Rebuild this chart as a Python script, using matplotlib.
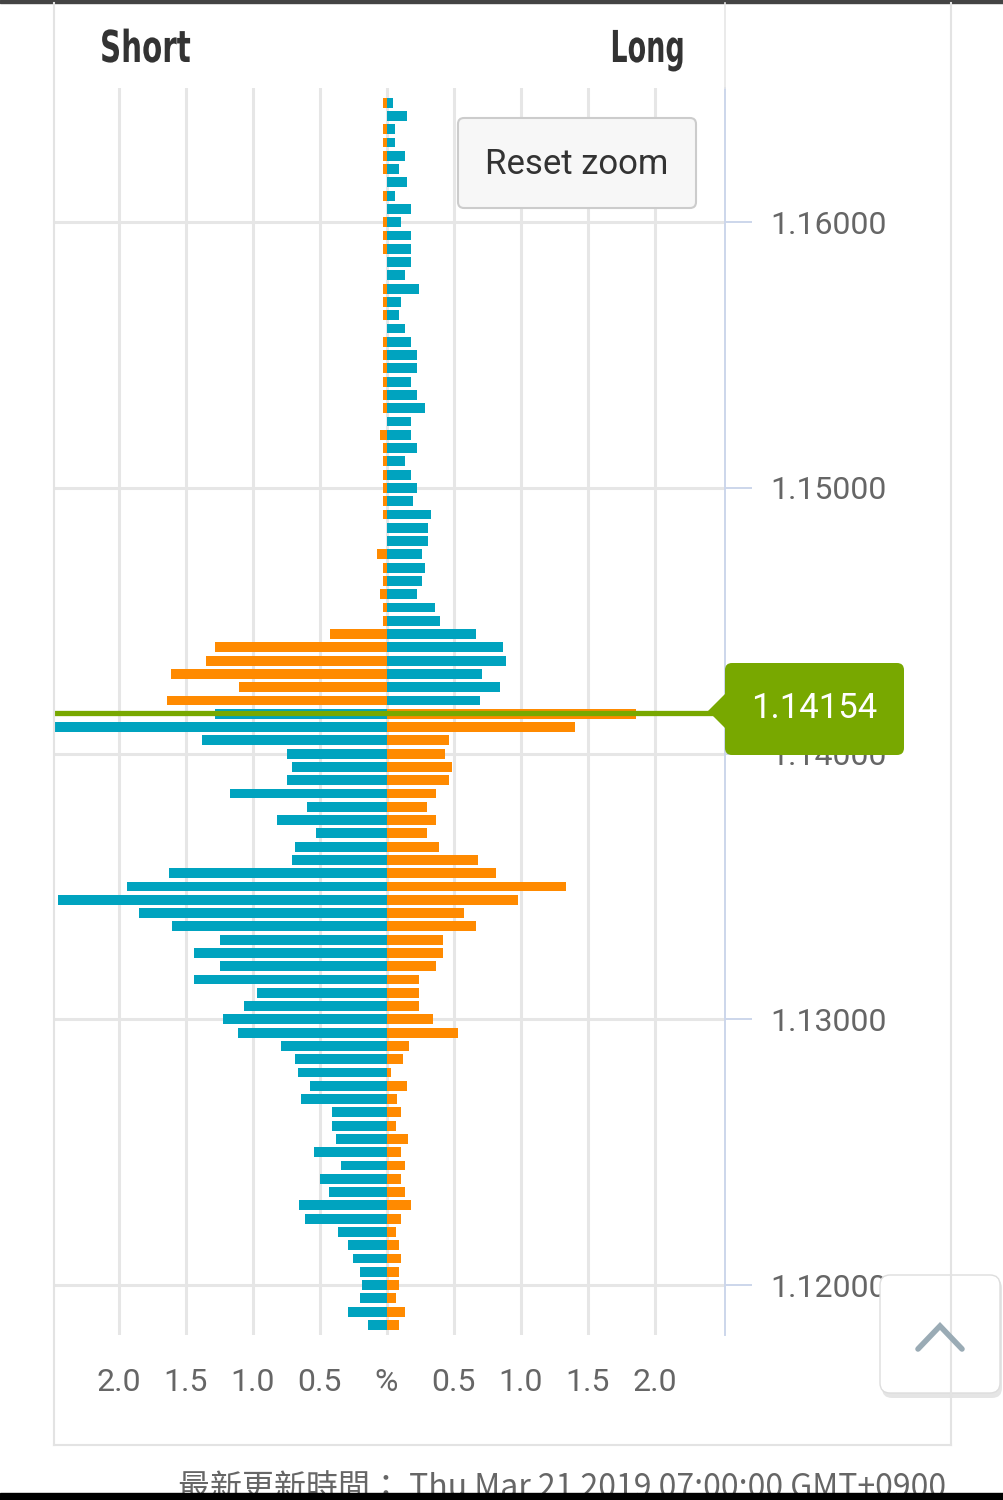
import matplotlib
matplotlib.use("Agg")
import matplotlib.pyplot as plt
from matplotlib.patches import FancyBboxPatch, Rectangle, Polygon, PathPatch
from matplotlib.textpath import TextPath
from matplotlib.font_manager import FontProperties
from matplotlib.transforms import Affine2D

plt.rcParams['font.family'] = ['Roboto', 'DejaVu Sans']

# price levels (top to bottom)
prices = [1.1645, 1.1640, 1.1635, 1.1630, 1.1625, 1.1620, 1.1615, 1.1610, 1.1605, 1.1600,
          1.1595, 1.1590, 1.1585, 1.1580, 1.1575, 1.1570, 1.1565, 1.1560, 1.1555, 1.1550,
          1.1545, 1.1540, 1.1535, 1.1530, 1.1525, 1.1520, 1.1515, 1.1510, 1.1505, 1.1500,
          1.1495, 1.1490, 1.1485, 1.1480, 1.1475, 1.1470, 1.1465, 1.1460, 1.1455, 1.1450,
          1.1445, 1.1440, 1.1435, 1.1430, 1.1425, 1.1420, 1.1415, 1.1410, 1.1405, 1.1400,
          1.1395, 1.1390, 1.1385, 1.1380, 1.1375, 1.1370, 1.1365, 1.1360, 1.1355, 1.1350,
          1.1345, 1.1340, 1.1335, 1.1330, 1.1325, 1.1320, 1.1315, 1.1310, 1.1305, 1.1300,
          1.1295, 1.1290, 1.1285, 1.1280, 1.1275, 1.1270, 1.1265, 1.1260, 1.1255, 1.1250,
          1.1245, 1.1240, 1.1235, 1.1230, 1.1225, 1.1220, 1.1215, 1.1210, 1.1205, 1.1200,
          1.1195, 1.1190, 1.1185]

# % on the short side (left)
short_pct = [0.025, 0, 0.025, 0.025, 0.025, 0.025, 0, 0.025, 0, 0.025,
             0.025, 0.025, 0, 0, 0.025, 0.025, 0.025, 0, 0.025, 0.025,
             0.025, 0.025, 0.025, 0.025, 0, 0.05, 0.025, 0.025, 0.025, 0.025,
             0.025, 0.025, 0, 0, 0.07, 0.025, 0.025, 0.045, 0.025, 0.025,
             0.425, 1.28, 1.345, 1.61, 1.10, 1.635, 1.28, 2.55, 1.375, 0.745,
             0.705, 0.745, 1.17, 0.59, 0.815, 0.525, 0.68, 0.705, 1.62, 1.935,
             2.45, 1.845, 1.60, 1.24, 1.44, 1.24, 1.44, 0.97, 1.06, 1.22,
             1.105, 0.79, 0.68, 0.66, 0.57, 0.64, 0.405, 0.405, 0.38, 0.54,
             0.34, 0.495, 0.43, 0.65, 0.61, 0.36, 0.29, 0.25, 0.20, 0.18,
             0.20, 0.29, 0.135]

# % on the long side (right)
long_pct = [0.045, 0.155, 0.065, 0.065, 0.135, 0.09, 0.155, 0.065, 0.18, 0.11,
            0.18, 0.18, 0.18, 0.135, 0.245, 0.11, 0.09, 0.135, 0.18, 0.225,
            0.225, 0.18, 0.225, 0.29, 0.18, 0.18, 0.225, 0.135, 0.18, 0.225,
            0.20, 0.335, 0.31, 0.31, 0.265, 0.29, 0.265, 0.225, 0.36, 0.40,
            0.67, 0.87, 0.895, 0.715, 0.85, 0.695, 1.86, 1.41, 0.465, 0.44,
            0.485, 0.465, 0.37, 0.305, 0.37, 0.305, 0.395, 0.685, 0.82, 1.34,
            0.98, 0.575, 0.665, 0.42, 0.42, 0.37, 0.24, 0.24, 0.24, 0.35,
            0.53, 0.17, 0.125, 0.035, 0.15, 0.08, 0.11, 0.07, 0.16, 0.11,
            0.135, 0.11, 0.135, 0.18, 0.11, 0.07, 0.09, 0.11, 0.09, 0.09,
            0.07, 0.135, 0.09]

current_price = 1.14154
price_ticks = [1.12, 1.13, 1.14, 1.15, 1.16]
pct_ticks = [-2.0, -1.5, -1.0, -0.5, 0, 0.5, 1.0, 1.5, 2.0]
pct_labels = ["2.0", "1.5", "1.0", "0.5", "%", "0.5", "1.0", "1.5", "2.0"]

TEAL = "#00a3bf"
ORANGE = "#ff8a00"
GREEN = "#78a800"
GRID = "#e6e6e6"
AXIS = "#ccd6eb"

short_colors = [ORANGE if p > current_price else TEAL for p in prices]
long_colors = [TEAL if p > current_price else ORANGE for p in prices]

fig = plt.figure(figsize=(10.04, 15.0), dpi=100)
fig.patch.set_facecolor("white")

ax = fig.add_axes([55 / 1004, 1 - 1335 / 1500, 670 / 1004, 1247 / 1500])
ax.barh(prices, [-v for v in short_pct], height=0.00037, color=short_colors, zorder=3)
ax.barh(prices, long_pct, height=0.00037, color=long_colors, zorder=3)
ax.axhline(current_price, color=GREEN, lw=3.8, zorder=4)

ax.set_xlim(-2.474, 2.526)
ax.set_ylim(1.11812, 1.16505)
ax.set_xticks(pct_ticks)
ax.set_xticklabels(pct_labels)
ax.set_yticks(price_ticks)
ax.set_yticklabels(["%.5f" % p for p in price_ticks])
ax.yaxis.tick_right()
ax.grid(True, color=GRID, lw=2.2)
ax.set_axisbelow(True)
ax.tick_params(axis="x", length=0, pad=24, labelsize=23, labelcolor="#666666")
ax.tick_params(axis="y", length=19.4, width=1.4, color=AXIS, pad=13,
               labelsize=23, labelcolor="#666666")
for s in ["top", "left", "bottom"]:
    ax.spines[s].set_visible(False)
ax.spines["right"].set_color(AXIS)
ax.spines["right"].set_linewidth(1.4)

# overlay in pixel coordinates for the page decorations
ov = fig.add_axes([0, 0, 1, 1])
ov.set_xlim(0, 1004)
ov.set_ylim(1500, 0)
ov.axis("off")
ov.set_zorder(5)

ov.add_patch(Rectangle((0, 0), 1004, 3, color="#444444"))
ov.plot([54, 54], [3, 1445], color="#e3e3e3", lw=1.5)
ov.plot([951, 951], [3, 1445], color="#e3e3e3", lw=1.5)
ov.plot([54, 951], [1445, 1445], color="#e3e3e3", lw=1.5)
ov.plot([725, 725], [3, 88], color="#e6e6e6", lw=1.2)

# condensed bold headers: squeeze the glyph outlines horizontally
bold = FontProperties(family="DejaVu Sans", weight="bold")
tp_short = TextPath((0, 0), "Short", size=44, prop=bold)
sx = 88 / tp_short.get_extents().width
tp_long = TextPath((0, 0), "Long", size=44, prop=bold)
ov.add_patch(PathPatch(tp_short, color="#333333", lw=0,
                       transform=Affine2D().scale(sx, -1).translate(100, 62) + ov.transData))
w_long = tp_long.get_extents().width * sx * 0.92
ov.add_patch(PathPatch(tp_long, color="#333333", lw=0,
                       transform=Affine2D().scale(sx * 0.92, -1).translate(680 - w_long, 62) + ov.transData))

# reset zoom button
ov.add_patch(FancyBboxPatch((458, 118), 238, 90, boxstyle="round,pad=0,rounding_size=6",
                            facecolor="#f7f7f7", edgecolor="#cccccc", lw=1.5))
ov.text(577, 164, "Reset zoom", ha="center", va="center", fontsize=25, color="#333333")

# current price label
ov.add_patch(FancyBboxPatch((725, 663), 179, 92, boxstyle="round,pad=0,rounding_size=7",
                            facecolor=GREEN, edgecolor="none"))
ov.add_patch(Polygon([(708, 711), (727, 692), (727, 730)], closed=True,
                     facecolor=GREEN, edgecolor="none"))
ov.text(814, 708, "%.5f" % current_price, ha="center", va="center", fontsize=25,
        color="white")

# scroll-to-top button
ov.add_patch(FancyBboxPatch((882, 1278), 120, 120, boxstyle="round,pad=0,rounding_size=10",
                            facecolor="#cccccc", edgecolor="none", alpha=0.5))
ov.add_patch(FancyBboxPatch((880, 1275), 120, 118, boxstyle="round,pad=0,rounding_size=10",
                            facecolor="white", edgecolor="#dddddd", lw=1))
ov.plot([918, 940, 962], [1349, 1326, 1349], color="#9aabb5", lw=4,
        solid_capstyle="round", solid_joinstyle="miter")

# footer (cut by the bottom bar, as in the screenshot)
ov.text(178, 1489, "最新更新時間： Thu Mar 21 2019 07:00:00 GMT+0900", ha="left",
        va="center", fontsize=23, color="#666666",
        family=["Noto Sans CJK TC", "DejaVu Sans"])
ov.add_patch(Rectangle((0, 1493), 1004, 7, color="black", zorder=10))

fig.savefig("out.png", dpi=100)
